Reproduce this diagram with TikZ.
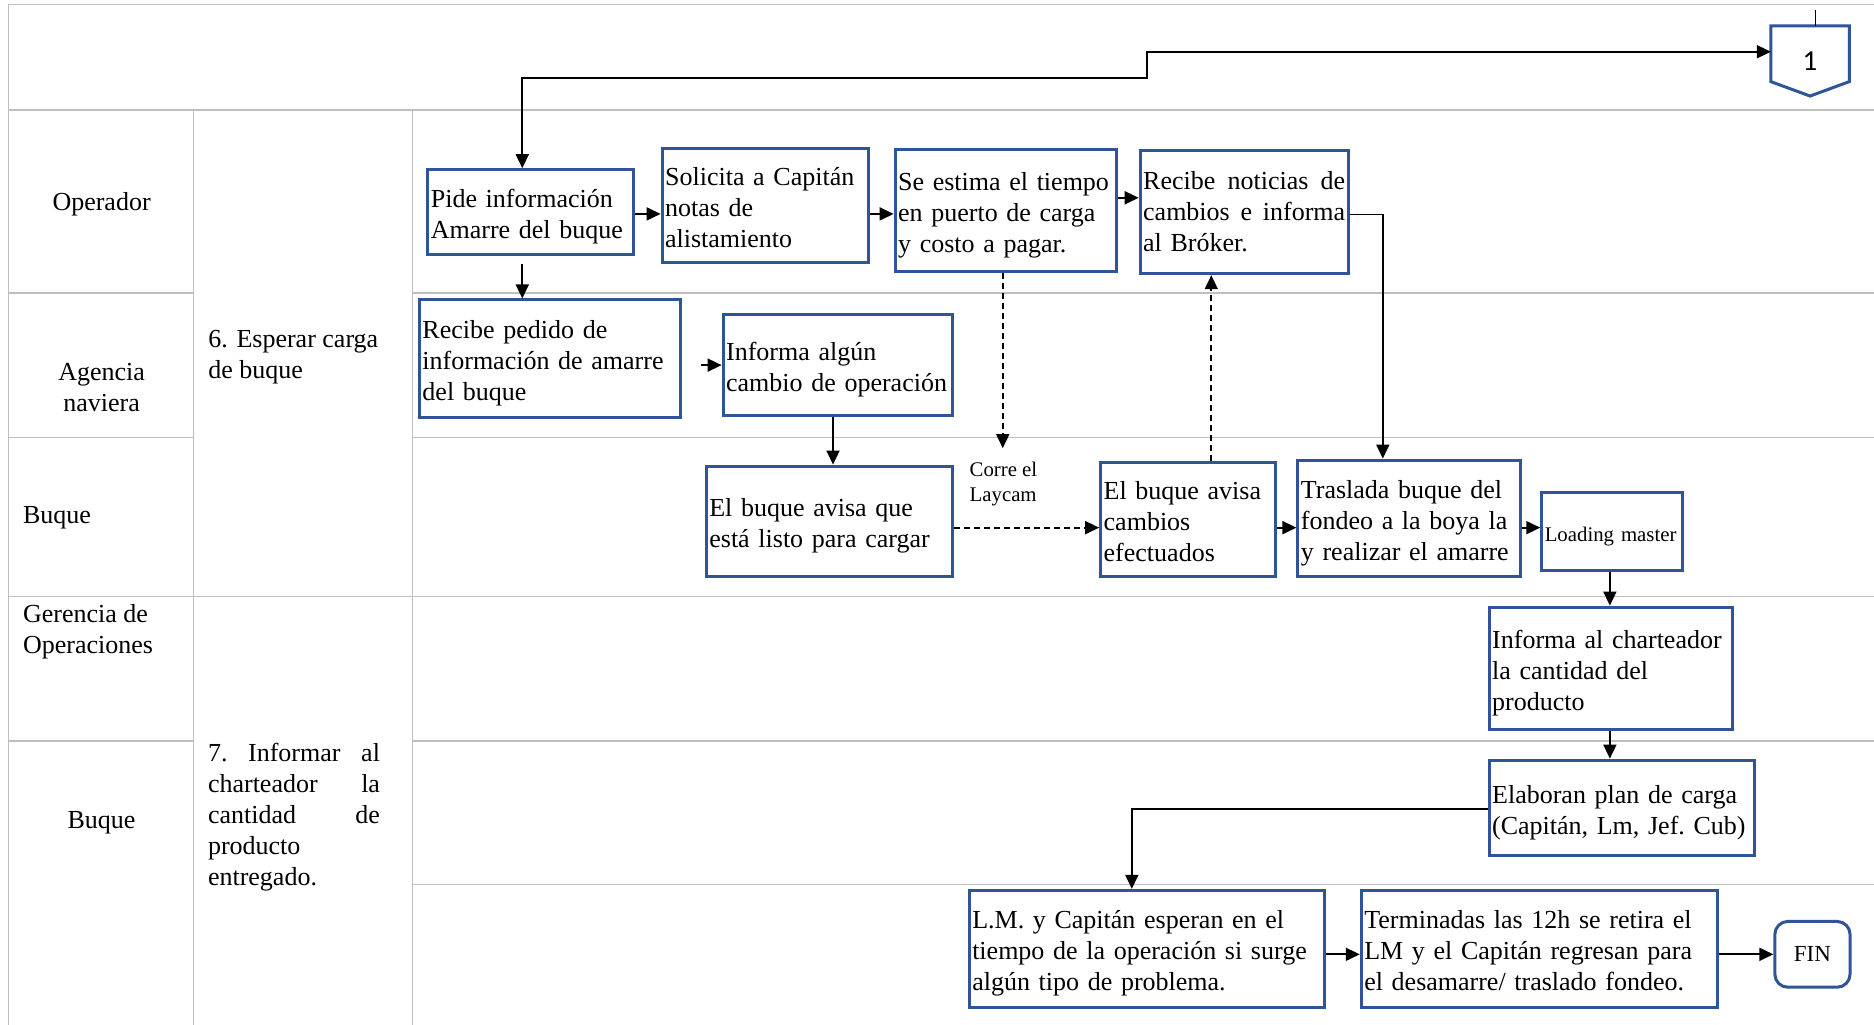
\documentclass[tikz,border=0pt]{standalone}
\usepackage{fontspec}
\setmainfont{Liberation Serif}
\newfontfamily\calibrifont{Carlito}
\usetikzlibrary{arrows.meta}
\definecolor{boxblue}{RGB}{47,85,151}
\definecolor{gridgray}{RGB}{191,191,191}
\newcommand\txtsz{\fontsize{13}{15.5}\selectfont}
\newcommand\lblsz{\fontsize{10.4}{12.5}\selectfont}
% keeps each written line of a box on one line, set a little low in the box
\newcommand\boxlines[1]{\raisebox{-2.4pt}[\height][\depth]{\begin{tabular}{@{}l@{}}#1\end{tabular}}}
\begin{document}
\begin{tikzpicture}[x=0.5976pt, y=-0.5976pt,
  lane/.style={draw=gridgray, line width=0.7pt},
  hdr/.style={font=\txtsz, inner sep=0pt},
  proc/.style={draw=boxblue, line width=1.5pt, fill=white, inner xsep=1.5pt,
    inner ysep=0pt, align=left, font=\txtsz},
  dims/.style n args={3}{minimum width=#1pt, minimum height=#2pt, text width=#3pt},
  flow/.style={draw=black, line width=0.9pt, -{Triangle[length=7pt,width=6.5pt]}},
  dflow/.style={flow, dash pattern=on 3pt off 2pt}]

\useasboundingbox (0,0) rectangle (1568,857.6);
\fill[white] (0,0) rectangle (1568,857.6);

% table grid
\draw[lane] (7,4) -- (1568,4);
\draw[lane] (7,4) -- (7,857.6);
\draw[lane] (7,92) -- (1568,92);
\draw[lane] (162,92) -- (162,857.6);
\draw[lane] (345,92) -- (345,857.6);
\draw[lane] (7,245) -- (162,245) (345,245) -- (1568,245);
\draw[lane] (7,366) -- (162,366) (345,366) -- (1568,366);
\draw[lane] (7,499) -- (1568,499);
\draw[lane] (7,620) -- (162,620) (345,620) -- (1568,620);
\draw[lane] (345,740) -- (1568,740);

% lane titles
\node[hdr] (hop) at (85,170.5) {Operador};
\node[hdr, align=center] (hag) at (85,324) {Agencia\\naviera};
\node[hdr, anchor=west] (hbq1) at (19,433.5) {Buque};
\node[hdr, anchor=west, align=left] (hger) at (19,529) {Gerencia de\\Operaciones};
\node[hdr] (hbq2) at (85,688) {Buque};

% stage titles
\node[hdr, anchor=west, align=left] (st6) at (174,299) {6. Esperar carga\\de buque};
\node[hdr, text width=86pt, align=left] (st7) at (246,683.5)
  {7.\hfill Informar\hfill al\\charteador\hfill la\\cantidad\hfill de\\producto\\entregado.};

% off-page connector
\node[minimum width=38.8pt, minimum height=34.7pt, inner sep=0pt,
  font=\calibrifont\fontsize{14.5}{16}\selectfont] (c1) at (1514.5,51) {1};
\draw[boxblue, line width=1.5pt, line join=miter]
  (c1.north west) -- (c1.north east) -- ([yshift=7.2pt]c1.south east)
  -- (c1.south) -- ([yshift=7.2pt]c1.south west) -- cycle;
\coordinate (ctop) at (1519,8);
\draw[line width=0.9pt] (ctop) -- (ctop |- c1.north);

% process boxes
\node[proc, dims={102.8}{42.4}{99.8}] (pide) at (444,177.5)
  {\boxlines{Pide información\\Amarre del buque}};
\node[proc, dims={103.4}{57.4}{100.4}] (soli) at (640.5,172)
  {\boxlines{Solicita a Capitán\\notas de\\alistamiento}};
\node[proc, dims={110.6}{61.0}{107.6}] (esti) at (841.5,176)
  {\boxlines{Se estima el tiempo\\en puerto de carga\\y costo a pagar.}};
\node[proc, dims={104.0}{61.6}{101.0}] (reno) at (1041,177.5)
  {Recibe\hfill noticias\hfill de\\cambios\hfill e\hfill informa\\al Bróker.};
\node[proc, dims={130.3}{58.6}{127.3}] (repe) at (460,300)
  {\boxlines{Recibe pedido de\\información de amarre\\del buque}};
\node[proc, dims={114.7}{50.8}{111.7}] (inal) at (701,305.5)
  {\boxlines{Informa algún\\cambio de operación}};
\node[proc, dims={123.1}{55.0}{120.1}] (list) at (694,436)
  {\boxlines{El buque avisa que\\está listo para cargar}};
\node[proc, dims={87.3}{56.8}{84.3}] (camb) at (994,434.5)
  {\boxlines{El buque avisa\\cambios\\efectuados}};
\node[proc, dims={111.2}{58.0}{108.2}] (tras) at (1179,433.5)
  {\boxlines{Traslada buque del\\fondeo a la boya la\\y realizar el amarre}};
\node[proc, dims={70.5}{38.8}{67.5}, font=\fontsize{10.4}{12.5}\selectfont] (load) at (1349,444.5)
  {\boxlines{Loading master}};
\node[proc, dims={121.9}{61.0}{118.9}] (char) at (1348,559)
  {\boxlines{Informa al charteador\\la cantidad del\\producto}};
\node[proc, dims={132.7}{47.8}{129.7}] (plan) at (1357,676)
  {\boxlines{Elaboran plan de carga\\(Capitán, Lm, Jef.\ Cub)}};
\node[proc, dims={177.5}{58.6}{174.5}] (lmcp) at (959.5,794)
  {\boxlines{L.M. y Capitán esperan en el\\tiempo de la operación si surge\\algún tipo de problema.}};
\node[proc, dims={178.1}{58.6}{175.1}] (term) at (1288,794)
  {\boxlines{Terminadas las 12h se retira el\\LM y el Capitán regresan para\\el desamarre/ traslado fondeo.}};
\node[draw=boxblue, line width=1.5pt, rounded corners=6.5pt, minimum width=37.6pt,
  minimum height=32.9pt, inner sep=0pt, font=\fontsize{11.5}{13}\selectfont] (fin) at (1516.5,798.5) {FIN};

% label on the laytime arrow
\node[font=\lblsz, align=left, anchor=west, inner sep=0pt] (lay) at (811,405) {Corre el\\Laycam};

% routing points
\coordinate (k1) at (437,65);
\coordinate (k2) at (960,43.3);
\coordinate (r1) at (0,179);
\coordinate (r2) at (0,165.5);
\coordinate (k3) at (697,0);
\coordinate (laytip) at (839,375);
\coordinate (k4) at (0,441.5);
\coordinate (k5) at (1013.5,0);
\coordinate (k6) at (1157,179.5);
\coordinate (k8) at (1347,0);
\coordinate (k9) at (947,677);
\coordinate (k10) at (0,798.5);

% connectors
\draw[flow, {Triangle[length=7pt,width=6.5pt]}-{Triangle[length=7pt,width=6.5pt]}]
  (pide.north -| k1) -- (k1) -| (k2) -- (k2 -| c1.west);
\draw[flow, shorten <=4pt] (pide.south -| k1) -- (repe.north -| k1);
\draw[flow] (pide.east |- r1) -- (soli.west |- r1);
\draw[flow] (soli.east |- r1) -- (esti.west |- r1);
\draw[flow] (esti.east |- r2) -- (reno.west |- r2);
\draw[flow, shorten <=9.7pt] (repe.east |- inal.west) -- (inal.west);
\draw[flow] (inal.south -| k3) -- (list.north -| k3);
\draw[dflow] (esti.south -| laytip) -- (laytip);
\draw[dflow] (list.east |- k4) -- (camb.west |- k4);
\draw[dflow] (camb.north -| k5) -- (reno.south -| k5);
\draw[flow] (reno.east |- k6) -- (k6) -- (tras.north -| k6);
\draw[flow] (camb.east |- k4) -- (tras.west |- k4);
\draw[flow] (tras.east |- k4) -- (load.west |- k4);
\draw[flow] (load.south -| k8) -- (char.north -| k8);
\draw[flow] (char.south -| k8) -- (plan.north -| k8);
\draw[flow] (plan.west |- k9) -- (k9) -- (lmcp.north -| k9);
\draw[flow] (lmcp.east |- k10) -- (term.west |- k10);
\draw[flow] (term.east |- k10) -- (fin.west |- k10);
\end{tikzpicture}
\end{document}
